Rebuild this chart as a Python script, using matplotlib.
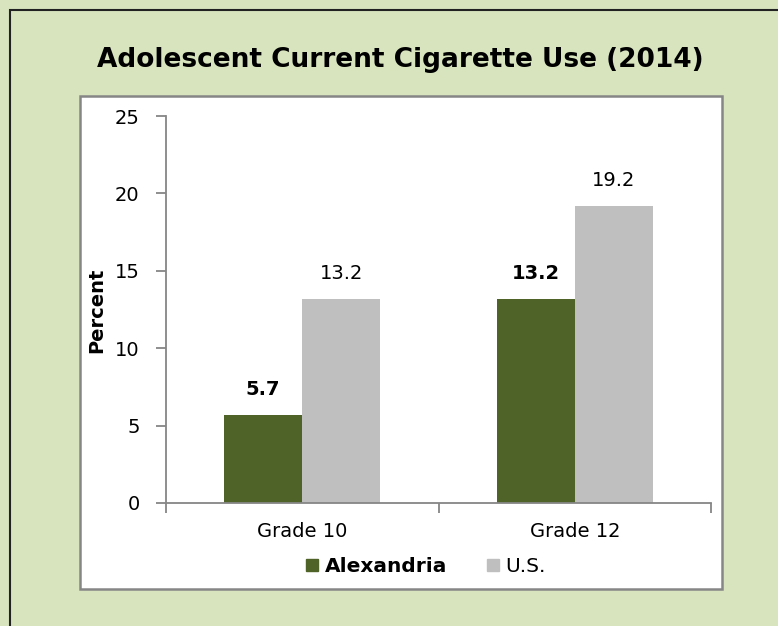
import numpy as np
import matplotlib
matplotlib.use("Agg")
import matplotlib.pyplot as plt
from matplotlib.patches import Rectangle

# data
grades = ["Grade 10", "Grade 12"]
alexandria = [5.7, 13.2]
us = [13.2, 19.2]
yticks = [0, 5, 10, 15, 20, 25]

W, H = 778, 626
green = "#4F6228"
gray = "#BFBFBF"
bg = "#D7E4BD"
axcol = "#868686"

fig = plt.figure(figsize=(W / 100, H / 100), dpi=100)
fig.patch.set_facecolor(bg)

def fx(px):
    return px / W

def fy(py):
    return 1 - py / H

# outer black frame (runs off the right and bottom edge)
fig.patches.append(Rectangle((fx(10), fy(700)), fx(900), fy(10) - fy(700),
                             transform=fig.transFigure, fill=False,
                             edgecolor="#222222", lw=1.5, zorder=-2))
# white chart area
fig.patches.append(Rectangle((fx(80), fy(589)), fx(722) - fx(80), fy(96) - fy(589),
                             transform=fig.transFigure, facecolor="white",
                             edgecolor=axcol, lw=1.8, zorder=-1))

fig.text(fx(400), fy(60), "Adolescent Current Cigarette Use (2014)",
         ha="center", va="center", fontsize=19, fontweight="bold")

ax = fig.add_axes([fx(166), fy(503), fx(711) - fx(166), fy(116) - fy(503)])
ax.set_facecolor("none")

x = np.arange(len(grades))
w = 0.287
b1 = ax.bar(x - w / 2, alexandria, w, color=green, label="Alexandria")
b2 = ax.bar(x + w / 2, us, w, color=gray, label="U.S.")

for r, v in zip(b1, alexandria):
    ax.text(r.get_x() + r.get_width() / 2, v + 1.0, f"{v:.1f}", ha="center",
            va="bottom", fontsize=14, fontweight="bold")
for r, v in zip(b2, us):
    ax.text(r.get_x() + r.get_width() / 2, v + 1.0, f"{v:.1f}", ha="center",
            va="bottom", fontsize=14)

ax.set_xlim(-0.5, 1.5)
ax.set_ylim(0, 25)
ax.set_yticks(yticks)
ax.set_xticks([-0.5, 0.5, 1.5])
ax.set_xticklabels([])
ax.set_xticks(x, minor=True)
ax.set_xticklabels(grades, minor=True)
ax.tick_params(axis="x", which="minor", length=0, pad=14, labelsize=14)
ax.tick_params(axis="x", which="major", length=7, color=axcol, width=1.3)
ax.tick_params(axis="y", length=7, color=axcol, width=1.3, labelsize=14, pad=12)

for s in ["top", "right"]:
    ax.spines[s].set_visible(False)
for s in ["left", "bottom"]:
    ax.spines[s].set_color(axcol)
    ax.spines[s].set_linewidth(1.3)

ax.set_ylabel("Percent", fontsize=14, fontweight="bold", labelpad=5)
ax.yaxis.set_label_coords(fx(97) - fx(166), fy(310) - fy(503), transform=ax.transAxes)
ax.yaxis.label.set_transform(fig.transFigure)
ax.yaxis.label.set_position((fx(97), fy(310)))
ax.yaxis.label.set_va("center")

h1 = plt.Line2D([], [], marker="s", ls="", color=green, markersize=9)
h2 = plt.Line2D([], [], marker="s", ls="", color=gray, markersize=9)
leg = fig.legend([h1, h2], ["Alexandria", "U.S."], loc="center",
                 bbox_to_anchor=(fx(426), fy(567)), ncol=2, frameon=False,
                 fontsize=14.5, handlelength=0.6, handletextpad=0.3,
                 columnspacing=2.0)
leg.get_texts()[0].set_fontweight("bold")

fig.savefig("out.png", dpi=100, facecolor=fig.get_facecolor())
